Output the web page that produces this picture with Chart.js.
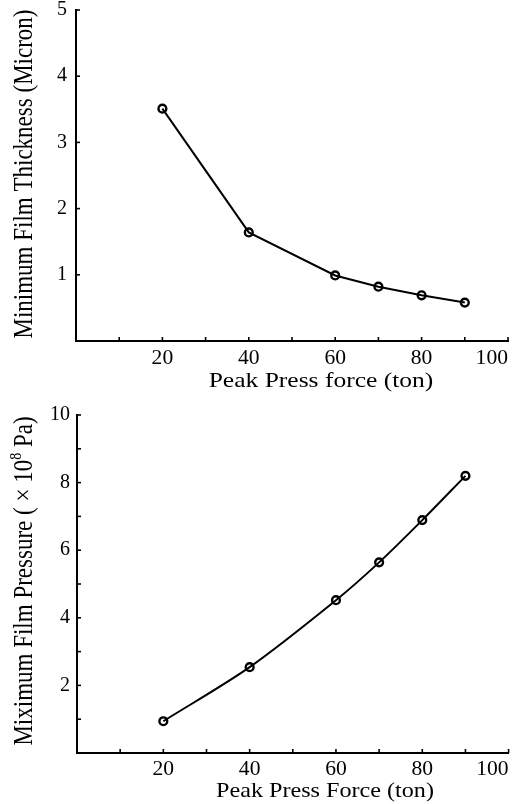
<!DOCTYPE html>
<html>
<head>
<meta charset="utf-8">
<script src="https://cdn.jsdelivr.net/npm/chart.js@4"></script>
<style>
  html, body { margin: 0; padding: 0; background: #fff; }
  #wrap { position: relative; width: 515px; height: 804px; overflow: hidden; }
  canvas { position: absolute; left: 0; }
</style>
</head>
<body>
<div id="wrap">
  <canvas id="c1" width="515" height="400" style="top:0px"></canvas>
  <canvas id="c2" width="515" height="404" style="top:400px"></canvas>
</div>
<script>
// ---- data ----
const forceTon = [20, 40, 60, 70, 80, 90];
const minFilmThickness = [3.51, 1.64, 0.99, 0.82, 0.69, 0.58];
const maxFilmPressure = [0.94, 2.54, 4.52, 5.64, 6.89, 8.20];
const xTickLabels = [20, 40, 60, 80, 100];
const thicknessTickLabels = [1, 2, 3, 4, 5];
const pressureTickLabels = [2, 4, 6, 8, 10];
const topXTitle = 'Peak Press force (ton)';
const topYTitle = 'Minimum Film Thickness (Micron)';
const bottomXTitle = 'Peak Press Force (ton)';
const bottomYTitleParts = ['Miximum Film Pressure ( \u00d7 10', '8', ' Pa)'];

const SERIF = '"Liberation Serif", "Times New Roman", serif';

function makeDecor(cfg) {
  return {
    id: 'decor',
    afterDraw(chart) {
      const ctx = chart.ctx;
      const xs = chart.scales.x, ys = chart.scales.y;
      ctx.save();
      ctx.strokeStyle = '#000';
      ctx.fillStyle = '#000';
      ctx.lineWidth = 1.6;
      // inward tick marks
      xs.ticks.forEach(t => {
        if (t.value === xs.min) return;
        const px = xs.getPixelForValue(t.value);
        ctx.beginPath(); ctx.moveTo(px, xs.top); ctx.lineTo(px, xs.top - 4); ctx.stroke();
      });
      ys.ticks.forEach(t => {
        if (t.value === ys.min) return;
        const py = ys.getPixelForValue(t.value);
        ctx.beginPath(); ctx.moveTo(ys.right, py); ctx.lineTo(ys.right + 4, py); ctx.stroke();
      });
      // x tick labels
      ctx.font = '20px ' + SERIF;
      ctx.textBaseline = 'alphabetic';
      xTickLabels.forEach(v => {
        const px = xs.getPixelForValue(v);
        const txt = String(v);
        const w = ctx.measureText(txt).width * cfg.tickStretch;
        ctx.save();
        let cx = px;
        if (px + w / 2 > chart.width - 1) cx = px - w / 2;
        ctx.translate(cx, xs.top + cfg.tickBaseline);
        ctx.scale(cfg.tickStretch, 1);
        ctx.textAlign = 'center';
        ctx.fillText(txt, 0, 0);
        ctx.restore();
      });
      // x title
      ctx.save();
      ctx.font = cfg.xFont + 'px ' + SERIF;
      ctx.textAlign = 'center';
      ctx.translate(cfg.xTitleX, cfg.xTitleY);
      ctx.scale(cfg.xStretch, 1);
      ctx.fillText(cfg.xTitle, 0, 0);
      ctx.restore();
      // y title (possibly with superscript)
      ctx.save();
      ctx.translate(cfg.yTitleX, cfg.yTitleY);
      ctx.rotate(-Math.PI / 2);
      ctx.scale(1, cfg.yStretch);
      const parts = cfg.yParts;
      const fonts = parts.map((p, i) => (cfg.supIndex === i ? Math.round(cfg.yFont * 0.62) : cfg.yFont) + 'px ' + SERIF);
      const widths = parts.map((p, i) => { ctx.font = fonts[i]; return ctx.measureText(p).width; });
      const total = widths.reduce((a, b) => a + b, 0);
      let pos = -total / 2;
      ctx.textAlign = 'left';
      parts.forEach((p, i) => {
        ctx.font = fonts[i];
        const dy = cfg.supIndex === i ? -cfg.yFont * 0.42 : 0;
        ctx.fillText(p, pos, dy);
        pos += widths[i];
      });
      ctx.restore();
      ctx.restore();
    }
  };
}

function makeChart(id, values, yMax, yLabels, tension, lay) {
  return new Chart(document.getElementById(id), {
    type: 'line',
    data: {
      datasets: [{
        data: forceTon.map((f, i) => ({ x: f, y: values[i] })),
        borderColor: '#000',
        borderWidth: 2,
        pointRadius: 3.9,
        pointBorderWidth: 2.4,
        pointBorderColor: '#000',
        pointBackgroundColor: 'rgba(0,0,0,0)',
        tension: tension,
        fill: false
      }]
    },
    options: {
      responsive: false,
      devicePixelRatio: 1,
      animation: false,
      events: [],
      layout: { padding: { top: lay.top, right: lay.right, left: 0, bottom: 0 } },
      plugins: { legend: { display: false }, tooltip: { enabled: false } },
      scales: {
        x: {
          type: 'linear', min: 0, max: 100,
          afterFit(s) { s.height = lay.xHeight; s.paddingLeft = 0; s.paddingRight = 0; },
          grid: { display: false, drawTicks: false, tickLength: 0 },
          border: { display: true, color: '#000', width: 2 },
          ticks: { display: false, stepSize: 10, autoSkip: false, maxRotation: 0 }
        },
        y: {
          type: 'linear', min: 0, max: yMax,
          afterFit(s) { s.width = lay.yWidth; s.paddingTop = 0; s.paddingBottom = 0; },
          grid: { display: false, drawTicks: false, tickLength: 0 },
          border: { display: true, color: '#000', width: 2 },
          ticks: {
            stepSize: 1, autoSkip: false, padding: lay.yPad, color: '#000',
            font: { family: SERIF, size: 20 },
            callback: v => (yLabels.includes(v) ? String(v) : '')
          }
        }
      }
    },
    plugins: [makeDecor(lay.decor)]
  });
}

makeChart('c1', minFilmThickness, 5, thicknessTickLabels, 0, {
  top: 10, right: 7, xHeight: 59, yWidth: 76, yPad: 9,
  decor: {
    tickStretch: 1.08, tickBaseline: 23,
    xTitle: topXTitle, xFont: 22, xStretch: 1.16, xTitleX: 321, xTitleY: 387,
    yParts: [topYTitle], supIndex: -1, yFont: 23, yStretch: 1.15, yTitleX: 32, yTitleY: 174
  }
});

makeChart('c2', maxFilmPressure, 10, pressureTickLabels, 0.3, {
  top: 15, right: 4, xHeight: 51, yWidth: 77, yPad: 7,
  decor: {
    tickStretch: 1.08, tickBaseline: 21.5,
    xTitle: bottomXTitle, xFont: 21, xStretch: 1.15, xTitleX: 325, xTitleY: 397,
    yParts: bottomYTitleParts, supIndex: 1, yFont: 23, yStretch: 1.15, yTitleX: 32, yTitleY: 181
  }
});
</script>
</body>
</html>
